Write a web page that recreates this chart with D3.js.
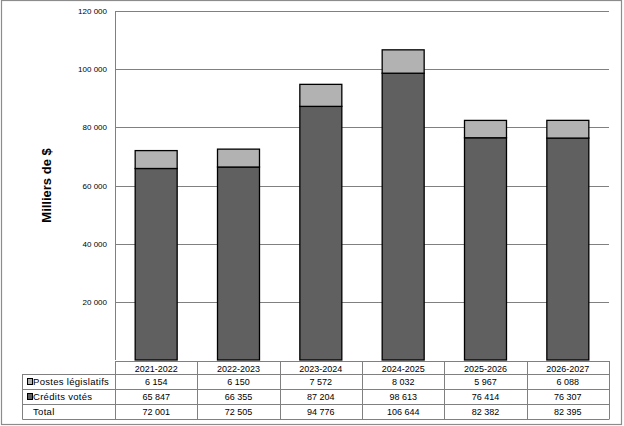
<!DOCTYPE html>
<html>
<head>
<meta charset="utf-8">
<script src="https://cdn.jsdelivr.net/npm/d3@7"></script>
<style>
html,body{margin:0;padding:0;background:#fff;}
svg{display:block;font-family:"Liberation Sans",Arial,sans-serif;}
</style>
</head>
<body>
<svg id="chart" width="624" height="426"></svg>
<script>
const categories = ["2021-2022","2022-2023","2023-2024","2024-2025","2025-2026","2026-2027"];
const postesLegislatifs = [6154, 6150, 7572, 8032, 5967, 6088];
const creditsVotes = [65847, 66355, 87204, 98613, 76414, 76307];
const totals = [72001, 72505, 94776, 106644, 82382, 82395];
const yTicks = [20000, 40000, 60000, 80000, 100000, 120000];
const seriesNames = ["Postes législatifs", "Crédits votés"];
const seriesColors = ["#b2b2b2", "#606060"];

(function(){
const svg = d3.select("#chart");
const pLeft = 115, pRight = 609, pTop = 11, pBottom = 360;

// outer border
svg.append("rect").attr("x",1.5).attr("y",0.5).attr("width",620).attr("height",424)
  .attr("fill","none").attr("stroke","#8c8c8c").attr("stroke-width",1.2);

const x = d3.scaleBand().domain(categories).range([pLeft,pRight]).paddingInner(0).paddingOuter(0);
const y = d3.scaleLinear().domain([0,120000]).range([pBottom,pTop]);

// gridlines
svg.append("g").selectAll("line").data(yTicks).join("line")
  .attr("x1",pLeft).attr("x2",pRight)
  .attr("y1",d=>Math.round(y(d))+0.5).attr("y2",d=>Math.round(y(d))+0.5)
  .attr("stroke","#808080").attr("stroke-width",1);

// y axis
const fmt = v => d3.format(",")(v).replace(/,/g," ");
const yAxis = d3.axisLeft(y).tickValues(yTicks).tickSize(0).tickPadding(0).tickFormat(fmt);
const gy = svg.append("g").attr("transform",`translate(${pLeft-8},0)`).call(yAxis);
gy.select(".domain").remove();
gy.selectAll("text").attr("font-size","8px").attr("fill","#000").attr("font-family","Liberation Sans, Arial, sans-serif");

svg.append("line").attr("x1",pLeft+0.5).attr("x2",pLeft+0.5).attr("y1",pTop).attr("y2",pBottom)
  .attr("stroke","#808080");

// stacked bars
const stackData = categories.map((c,i)=>({cat:c, credits:creditsVotes[i], postes:postesLegislatifs[i]}));
const stack = d3.stack().keys(["credits","postes"])(stackData);
const colorFor = {credits:seriesColors[1], postes:seriesColors[0]};
const bw = x.bandwidth()*0.51;
svg.append("g").selectAll("g").data(stack).join("g")
  .attr("fill",d=>colorFor[d.key])
  .selectAll("rect").data(d=>d).join("rect")
  .attr("x",d=>x(d.data.cat)+(x.bandwidth()-bw)/2)
  .attr("width",bw)
  .attr("y",d=>y(d[1]))
  .attr("height",d=>y(d[0])-y(d[1]))
  .attr("stroke","#000").attr("stroke-width",1.3);

// table
const rows = [
  {label:seriesNames[0], color:seriesColors[0], vals:postesLegislatifs},
  {label:seriesNames[1], color:seriesColors[1], vals:creditsVotes},
  {label:"Total", color:null, vals:totals}
];
const tLeft = 22.5, hTop = 361, hBot = 374, rowH = 15;
const tg = svg.append("g");
const lineColor = "#808080";
tg.append("line").attr("x1",pLeft).attr("x2",pRight).attr("y1",hTop+0.5).attr("y2",hTop+0.5).attr("stroke",lineColor);
for(let r=0;r<=3;r++){
  const yy = hBot + r*rowH + 0.5;
  tg.append("line").attr("x1",tLeft).attr("x2",pRight).attr("y1",yy).attr("y2",yy).attr("stroke",lineColor);
}
tg.append("line").attr("x1",tLeft).attr("x2",tLeft).attr("y1",hBot).attr("y2",hBot+3*rowH+0.5).attr("stroke",lineColor);
const vx = categories.map(c=>x(c)).concat([pRight]);
vx.forEach(v=>{
  tg.append("line").attr("x1",Math.round(v)+0.5).attr("x2",Math.round(v)+0.5)
    .attr("y1",hTop).attr("y2",hBot+3*rowH+0.5).attr("stroke",lineColor);
});
tg.selectAll("text.hdr").data(categories).join("text").attr("class","hdr")
  .attr("x",d=>x(d)+x.bandwidth()/2).attr("y",hTop+10.5)
  .attr("text-anchor","middle").attr("font-size","9px").attr("fill","#000").text(d=>d);
rows.forEach((row,r)=>{
  const cy = hBot + r*rowH + rowH/2;
  if(row.color){
    tg.append("rect").attr("x",27.5).attr("y",cy-3).attr("width",5).attr("height",6)
      .attr("fill",row.color).attr("stroke","#000").attr("stroke-width",1);
  }
  tg.append("text").attr("x",33).attr("y",cy+3.5)
    .attr("font-size","9.5px").attr("letter-spacing","0.3px").attr("fill","#000").text(row.label);
  tg.selectAll(null).data(row.vals).join("text")
    .attr("x",(d,i)=>x(categories[i])+x.bandwidth()/2).attr("y",cy+3.5)
    .attr("text-anchor","middle").attr("font-size","9px").attr("fill","#000").text(d=>fmt(d));
});

svg.append("text").attr("transform",`translate(51,${(pTop+pBottom)/2}) rotate(-90)`)
  .attr("text-anchor","middle").attr("font-size","13px").attr("font-weight","bold")
  .attr("fill","#000").text("Milliers de $");
})();
</script>
</body>
</html>
